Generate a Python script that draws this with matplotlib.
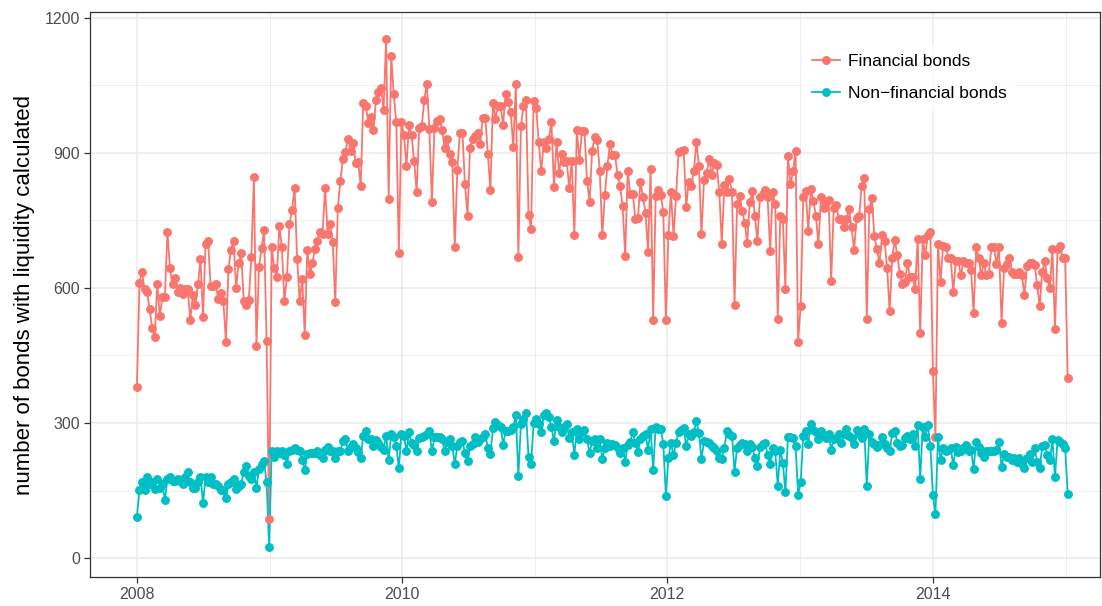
import numpy as np
import pandas as pd
import matplotlib
matplotlib.use('Agg')
import matplotlib.pyplot as plt
import matplotlib.dates as mdates
import matplotlib.ticker as mticker
from matplotlib.lines import Line2D

plt.rcParams['font.family'] = ['Liberation Sans', 'DejaVu Sans']

# weekly counts (Jan 2008 - Dec 2014)
financial = [
    380, 611, 636, 598, 590, 553, 511, 490, 608, 538,
    580, 580, 725, 644, 609, 622, 592, 601, 586, 598,
    598, 528, 585, 562, 608, 664, 535, 698, 704, 605,
    605, 608, 575, 588, 571, 481, 642, 685, 705, 601,
    655, 678, 572, 563, 573, 668, 846, 471, 647, 688,
    728,
    482, 86, 690, 644, 625, 738, 690, 571, 625, 742,
    773, 823, 665, 571, 621, 496, 684, 630, 655, 686,
    705, 725, 721, 823, 721, 742, 702, 568, 778, 838,
    886, 903, 932, 905, 923, 878, 881, 827, 1011, 1005,
    967, 981, 950, 1017, 1036, 1045, 996, 1154, 798, 1116,
    1030, 968, 677,
    968, 940, 871, 963, 940, 882, 813, 955, 959, 1017,
    1054, 953, 792, 955, 971, 976, 952, 912, 932, 898,
    881, 690, 863, 945, 945, 830, 761, 912, 930, 938,
    945, 921, 978, 978, 898, 817, 1012, 976, 1005, 1005,
    963, 1032, 1013, 990, 913, 1054, 668, 959, 1005, 1017,
    763, 732,
    1015, 999, 925, 859, 925, 912, 932, 968, 825, 925,
    855, 898, 881, 882, 823, 882, 717, 950, 884, 948,
    948, 838, 792, 905, 935, 928, 861, 717, 807, 871,
    921, 896, 896, 852, 827, 782, 672, 861, 809, 809,
    753, 755, 836, 802, 767, 681, 865, 528, 805, 817,
    807, 769, 528, 717,
    813, 715, 805, 902, 905, 907, 781, 836, 827, 859,
    925, 871, 719, 840, 855, 886, 852, 878, 873, 813,
    698, 829, 813, 842, 813, 563, 786, 804, 771, 745,
    700, 790, 815, 761, 705, 802, 809, 817, 802, 683,
    813, 786, 530, 761, 753, 598, 894, 830, 859, 904,
    481, 561,
    802, 815, 727, 821, 794, 759, 698, 802, 778, 790,
    796, 615, 778, 784, 753, 753, 736, 753, 776, 736,
    684, 755, 759, 827, 844, 532, 775, 799, 715, 686,
    655, 717, 705, 645, 548, 667, 707, 673, 632, 609,
    613, 655, 625, 625, 598, 708, 499, 708, 673, 717,
    725, 415, 270, 698,
    613, 694, 692, 667, 667, 590, 659, 659, 628, 659,
    655, 655, 640, 544, 692, 667, 628, 655, 628, 632,
    690, 690, 653, 690, 523, 645, 653, 667, 636, 632,
    630, 636, 628, 584, 648, 655, 655, 652, 607, 559,
    636, 659, 622, 599, 686, 509, 686, 694, 667, 667,
    400,
]

non_financial = [
    91, 151, 168, 151, 179, 164, 168, 154, 175, 156,
    164, 128, 175, 179, 172, 172, 175, 172, 164, 179,
    191, 170, 156, 156, 168, 181, 123, 179, 170, 181,
    164, 164, 160, 152, 151, 133, 164, 168, 175, 154,
    160, 164, 192, 205, 183, 175, 191, 156, 198, 210,
    215,
    168, 25, 237, 225, 237, 233, 237, 228, 210, 238,
    241, 245, 241, 237, 218, 195, 231, 233, 233, 233,
    237, 228, 222, 241, 246, 238, 238, 223, 238, 238,
    260, 264, 238, 246, 254, 245, 235, 222, 272, 282,
    264, 264, 248, 262, 256, 246, 241, 272, 218, 275,
    268, 248, 200,
    275, 272, 237, 279, 256, 251, 237, 266, 268, 272,
    275, 282, 237, 268, 269, 268, 264, 237, 258, 264,
    248, 210, 248, 258, 260, 233, 215, 248, 254, 268,
    258, 264, 268, 275, 245, 231, 289, 302, 295, 291,
    252, 283, 283, 285, 291, 318, 183, 298, 308, 322,
    225, 210,
    300, 310, 298, 279, 318, 322, 314, 291, 260, 306,
    292, 279, 291, 297, 266, 279, 229, 287, 264, 279,
    285, 264, 233, 260, 264, 245, 264, 220, 245, 256,
    248, 254, 252, 245, 233, 245, 214, 252, 258, 279,
    256, 235, 264, 272, 275, 241, 287, 195, 291, 287,
    287, 254, 138, 222,
    256, 228, 256, 279, 285, 289, 248, 275, 272, 279,
    305, 277, 220, 260, 258, 256, 248, 245, 237, 222,
    220, 245, 282, 275, 272, 192, 245, 252, 256, 254,
    237, 254, 246, 223, 205, 246, 254, 256, 229, 210,
    245, 237, 160, 241, 212, 146, 268, 268, 266, 248,
    141, 168,
    272, 283, 254, 297, 285, 279, 264, 283, 272, 266,
    275, 241, 264, 266, 275, 256, 275, 287, 272, 266,
    254, 285, 275, 266, 287, 160, 275, 258, 254, 246,
    251, 268, 254, 245, 237, 277, 283, 256, 248, 252,
    266, 272, 264, 275, 248, 295, 175, 292, 268, 295,
    250, 140, 97, 268,
    218, 245, 237, 241, 245, 206, 246, 235, 237, 245,
    251, 237, 241, 198, 258, 246, 233, 225, 237, 237,
    237, 238, 241, 258, 202, 231, 225, 225, 218, 222,
    214, 222, 210, 200, 222, 231, 214, 245, 214, 200,
    248, 251, 229, 218, 264, 179, 262, 258, 254, 245,
    143,
]

dates = pd.date_range('2008-01-02', periods=len(financial), freq='7D')

col_fin = '#F8766D'
col_nonfin = '#00BFC4'

fig = plt.figure(figsize=(11.02, 6.06), dpi=100)
ax = fig.add_axes([0.0817, 0.048, 0.9165, 0.932])

# lines first, then points on top (like ggplot layers)
ax.plot(dates, financial, color=col_fin, lw=1.3, zorder=2)
ax.plot(dates, non_financial, color=col_nonfin, lw=1.3, zorder=2)
ax.plot(dates, financial, ls='none', marker='o', ms=5.4, color=col_fin, zorder=3)
ax.plot(dates, non_financial, ls='none', marker='o', ms=5.4, color=col_nonfin, zorder=3)

ax.set_xlim(mdates.date2num(pd.Timestamp('2007-08-26')), mdates.date2num(pd.Timestamp('2015-04-06')))
ax.set_ylim(-42, 1213)

major_years = [pd.Timestamp(f'{y}-01-01') for y in [2008, 2010, 2012, 2014]]
minor_years = [pd.Timestamp(f'{y}-01-01') for y in [2009, 2011, 2013, 2015]]
ax.xaxis.set_major_locator(mticker.FixedLocator(mdates.date2num(major_years)))
ax.xaxis.set_minor_locator(mticker.FixedLocator(mdates.date2num(minor_years)))
ax.xaxis.set_major_formatter(mdates.DateFormatter('%Y'))
ax.yaxis.set_major_locator(mticker.FixedLocator([0, 300, 600, 900, 1200]))
ax.yaxis.set_minor_locator(mticker.FixedLocator([150, 450, 750, 1050]))

ax.grid(which='major', color='#EBEBEB', lw=1.1, zorder=0)
ax.grid(which='minor', color='#EBEBEB', lw=0.6, zorder=0)
ax.set_axisbelow(True)
ax.tick_params(which='major', length=4, width=0.9, color='#333333',
               labelsize=11.5, labelcolor='#4D4D4D', pad=3)
ax.tick_params(which='minor', length=0)
for s in ax.spines.values():
    s.set_color('#333333')
    s.set_linewidth(0.9)

ax.set_ylabel('number of bonds with liquidity calculated', fontsize=16, labelpad=7)

handles = [
    Line2D([], [], color=col_fin, lw=1.3, marker='o', ms=5.4),
    Line2D([], [], color=col_nonfin, lw=1.3, marker='o', ms=5.4),
]
leg = ax.legend(handles, ['Financial bonds', 'Non\u2212financial bonds'],
                loc='upper left', bbox_to_anchor=(0.705, 0.944), frameon=True,
                fontsize=12.5, handlelength=1.6, handletextpad=0.46,
                labelspacing=0.95, borderpad=0.6, borderaxespad=0)
leg.get_frame().set_facecolor('white')
leg.get_frame().set_edgecolor('none')

fig.savefig('out.png', dpi=100)
